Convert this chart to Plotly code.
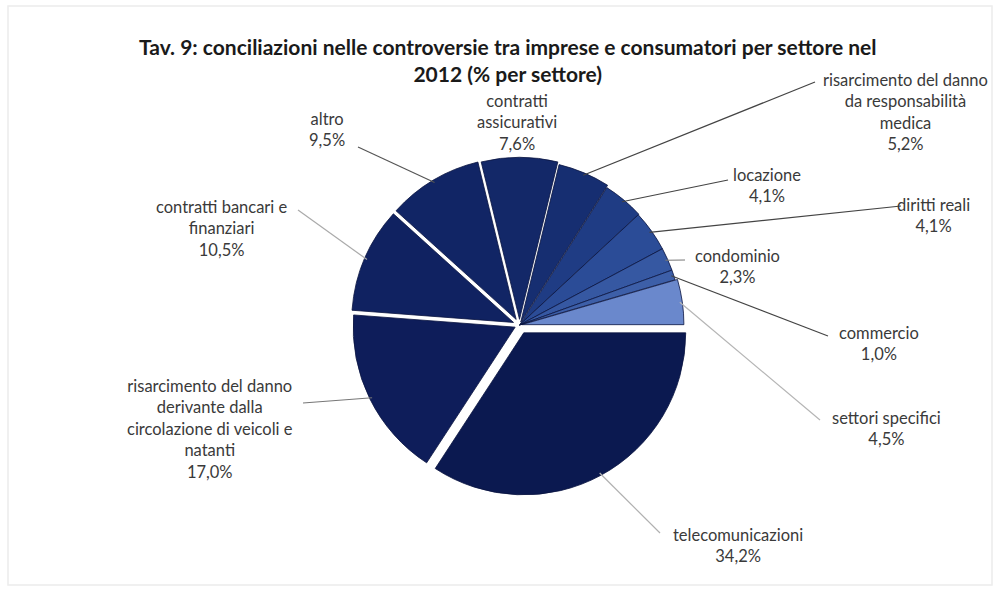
import math
import plotly.graph_objects as go

# ---- data ----
categories = [
    "telecomunicazioni",
    "risarcimento del danno derivante dalla circolazione di veicoli e natanti",
    "contratti bancari e finanziari",
    "altro",
    "contratti assicurativi",
    "risarcimento del danno da responsabilità medica",
    "locazione",
    "diritti reali",
    "condominio",
    "commercio",
    "settori specifici",
]
values = [34.2, 17.0, 10.5, 9.5, 7.6, 5.2, 4.1, 4.1, 2.3, 1.0, 4.5]
label_lines = [
    ["telecomunicazioni"],
    ["risarcimento del danno", "derivante dalla", "circolazione di veicoli e", "natanti"],
    ["contratti bancari e", "finanziari"],
    ["altro"],
    ["contratti", "assicurativi"],
    ["risarcimento del danno", "da responsabilità", "medica"],
    ["locazione"],
    ["diritti reali"],
    ["condominio"],
    ["commercio"],
    ["settori specifici"],
]
title_text = "Tav. 9: conciliazioni nelle controversie tra imprese e consumatori per settore nel<br>2012 (% per settore)"

# ---- style ----
colors = ["#0b1950", "#0e1d5a", "#102261", "#112565", "#132868", "#162e71",
          "#1f3c84", "#2b4c97", "#3658a2", "#3d5fa8", "#6a88cc"]
pulls = [0.055, 0.03, 0.04, 0.04, 0.035, 0.02, 0.005, 0.0, 0.0, 0.0, 0.015]

W, H = 999, 602
cx, cy, r = 519.5, 325.0, 162.0
half = r * (1 + max(pulls))

# label positions (pixels): block centre, leader-line end
label_pos = [
    (738, 545, 660, 533),
    (210, 429, 303, 403),
    (222, 228, 298, 210),
    (327, 129, 358, 147),
    (517, 123, None, None),
    (905, 112, 815, 82),
    (767, 185, 728, 180),
    (933, 215, 901, 206),
    (737, 266, 685, 260),
    (879, 343, 828, 336),
    (886, 428, 820, 420),
]
line_colors = ["#b0b0b0", "#777777", "#aaaaaa", "#555555", "#555555", "#444444",
               "#444444", "#444444", "#777777", "#444444", "#b5b5b5"]


def px(x):
    return x / W


def py(y):
    return 1 - y / H


fig = go.Figure(go.Pie(
    labels=categories,
    values=values,
    sort=False,
    direction="clockwise",
    rotation=90,
    pull=pulls,
    textinfo="none",
    hoverinfo="label+percent",
    marker=dict(colors=colors, line=dict(color="#0a1440", width=0.8)),
    domain=dict(x=[px(cx - half), px(cx + half)], y=[py(cy + half), py(cy - half)]),
    showlegend=False,
))

total = sum(values)
cum = 0.0
shapes = []
annotations = []
for i, v in enumerate(values):
    mid = (cum + v / 2) / total * 2 * math.pi  # clockwise from east
    cum += v
    rr = r * (1 + pulls[i]) * 0.985
    sx = cx + rr * math.cos(mid)
    sy = cy + rr * math.sin(mid)
    tx, ty, ex, ey = label_pos[i]
    pct = f"{v:.1f}".replace(".", ",") + "%"
    text = "<br>".join(label_lines[i] + [pct])
    annotations.append(dict(
        x=px(tx), y=py(ty), xref="paper", yref="paper", text=text,
        showarrow=False, xanchor="center", yanchor="middle", align="center",
        font=dict(family="Lato, Open Sans, sans-serif", size=16.5, color="#3a3a3a"),
    ))
    if ex is not None:
        shapes.append(dict(type="line", xref="paper", yref="paper",
                           x0=px(sx), y0=py(sy), x1=px(ex), y1=py(ey),
                           line=dict(color=line_colors[i], width=1.2)))

annotations.append(dict(
    x=px(508), y=py(60), xref="paper", yref="paper",
    text="<b>" + title_text.replace("<br>", "</b><br><b>") + "</b>",
    showarrow=False, xanchor="center", yanchor="middle", align="center",
    font=dict(family="Lato, Open Sans, sans-serif", size=21, color="#1a1a1a"),
))

# faint frame
shapes.append(dict(type="rect", xref="paper", yref="paper",
                   x0=px(8), y0=py(585), x1=px(992), y1=py(6),
                   line=dict(color="#ececec", width=1.5)))

fig.update_layout(
    width=W, height=H,
    margin=dict(l=0, r=0, t=0, b=0),
    paper_bgcolor="white",
    plot_bgcolor="white",
    shapes=shapes,
    annotations=annotations,
)

fig.write_html(
    "out.html",
    config={"displayModeBar": False},
    post_script="document.body.style.margin='0';document.body.style.overflow='hidden';",
)
